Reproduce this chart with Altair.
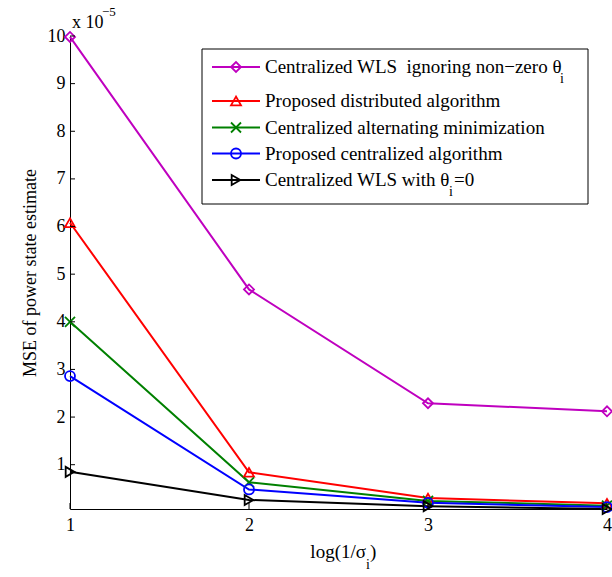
import altair as alt
import pandas as pd

# ---------------- data (values in units of 1e-5) ----------------
x_values = [1, 2, 3, 4]
series_keys = ["wls_ignore", "distributed", "alt_min", "centralized", "wls_zero"]
wls_ignore = [9.98, 4.68, 2.29, 2.12]
distributed = [6.08, 0.84, 0.30, 0.19]
alt_min = [4.00, 0.63, 0.24, 0.14]
centralized = [2.86, 0.48, 0.20, 0.11]
wls_zero = [0.85, 0.26, 0.13, 0.07]
series_values = [wls_ignore, distributed, alt_min, centralized, wls_zero]

legend_labels = [
    "Centralized WLS\u00a0 ignoring non\u2212zero \u03b8",
    "Proposed distributed algorithm",
    "Centralized alternating minimization",
    "Proposed centralized algorithm",
    "Centralized WLS with \u03b8",
]
y_ticks = [1, 2, 3, 4, 5, 6, 7, 8, 9, 10]
x_ticks = [1, 2, 3, 4]
y_title = "MSE of power state estimate"

# ---------------- styles ----------------
colors = ["#BF00BF", "#FF0000", "#008000", "#0000FF", "#000000"]
shapes = ["diamond", "triangle-up", "M-1,-1L1,1M-1,1L1,-1", "circle", "triangle-right"]
FONT = "Liberation Serif"
W, H = 537, 473

rows = []
for key, vals in zip(series_keys, series_values):
    for xv, v in zip(x_values, vals):
        rows.append({"series": key, "x": xv, "y": v})
df = pd.DataFrame(rows)

x_scale = alt.Scale(domain=[1, 4], nice=False, zero=False)
y_scale = alt.Scale(domain=[0.07, 10], nice=False, zero=False)
color_scale = alt.Scale(domain=series_keys, range=colors)
shape_scale = alt.Scale(domain=series_keys, range=shapes)

axis_style = dict(labelFont=FONT, labelFontSize=18, labelColor="black",
                  titleFont=FONT, titleFontSize=18, titleFontWeight="normal", titleColor="black",
                  domainColor="black", domainWidth=1, tickSize=0, grid=False, format="d")
x_axis = alt.Axis(values=x_ticks, title=None, labelPadding=7, labelFlush=False, **axis_style)
y_axis = alt.Axis(values=y_ticks, title=y_title, labelPadding=5, titlePadding=8, **axis_style)

base = alt.Chart(df)
lines = base.mark_line(strokeWidth=2).encode(
    x=alt.X("x:Q", scale=x_scale, axis=x_axis),
    y=alt.Y("y:Q", scale=y_scale, axis=y_axis),
    color=alt.Color("series:N", scale=color_scale, legend=None),
)
points = base.mark_point(filled=False, strokeWidth=1.8, size=100, opacity=1).encode(
    x=alt.X("x:Q", scale=x_scale, axis=x_axis),
    y=alt.Y("y:Q", scale=y_scale, axis=y_axis),
    color=alt.Color("series:N", scale=color_scale, legend=None),
    shape=alt.Shape("series:N", scale=shape_scale, legend=None),
)

# inward ticks (MATLAB style)
yt = alt.Chart(pd.DataFrame({"y": y_ticks})).mark_rule(color="black", strokeWidth=1).encode(
    y=alt.Y("y:Q", scale=y_scale, axis=y_axis), x=alt.value(0), x2=alt.value(5))
xt = alt.Chart(pd.DataFrame({"x": x_ticks})).mark_rule(color="black", strokeWidth=1).encode(
    x=alt.X("x:Q", scale=x_scale, axis=x_axis), y=alt.value(H), y2=alt.value(H - 6))

# ---------------- manual legend ----------------
row_centers = [31, 65, 91.5, 117.5, 144]
leg = pd.DataFrame({"series": series_keys, "label": legend_labels, "cy": row_centers})
leg["ty"] = leg["cy"] + 6

box = alt.Chart(pd.DataFrame({"a": [0]})).mark_rect(fill="white", stroke="black", strokeWidth=1).encode(
    x=alt.value(132), x2=alt.value(518), y=alt.value(13), y2=alt.value(168))
leg_base = alt.Chart(leg)
leg_lines = leg_base.mark_rule(strokeWidth=2).encode(
    x=alt.value(142), x2=alt.value(190),
    y=alt.Y("cy:Q", scale=None),
    color=alt.Color("series:N", scale=color_scale, legend=None))
leg_pts = leg_base.mark_point(filled=False, strokeWidth=1.8, size=100, opacity=1).encode(
    x=alt.value(166),
    y=alt.Y("cy:Q", scale=None),
    color=alt.Color("series:N", scale=color_scale, legend=None),
    shape=alt.Shape("series:N", scale=shape_scale, legend=None))
leg_text = leg_base.mark_text(align="left", baseline="alphabetic", font=FONT, fontSize=19,
                              color="black").encode(
    x=alt.value(195), y=alt.Y("ty:Q", scale=None), text="label:N")

ann = pd.DataFrame({
    "txt": ["i", "i", "=0", "x 10", "\u22125", "log(1/\u03c3", "i", ")"],
    "px": [490, 379, 384, 2, 32, 296, 296, 300],
    "py": [47, 160, 150, -8, -20, 522, 533, 522],
    "fs": [14, 14, 19, 18, 13, 19, 14, 19],
    "al": ["left", "left", "left", "left", "left", "right", "left", "left"],
})
ann_l = alt.Chart(ann).transform_filter("datum.al == 'left'").mark_text(
    align="left", baseline="alphabetic", font=FONT, color="black").encode(
    x=alt.X("px:Q", scale=None), y=alt.Y("py:Q", scale=None),
    text="txt:N", size=alt.Size("fs:Q", scale=None, legend=None))
ann_r = alt.Chart(ann).transform_filter("datum.al == 'right'").mark_text(
    align="right", baseline="alphabetic", font=FONT, color="black").encode(
    x=alt.X("px:Q", scale=None), y=alt.Y("py:Q", scale=None),
    text="txt:N", size=alt.Size("fs:Q", scale=None, legend=None))

chart = alt.layer(lines, points, yt, xt, box, leg_lines, leg_pts, leg_text, ann_l, ann_r).properties(
    width=W, height=H,
    autosize=alt.AutoSizeParams(type="none"),
    padding={"left": 70, "top": 36, "right": 5, "bottom": 68},
    background="white",
).configure_view(stroke=None)

chart.save("out.html", embed_options={"renderer": "svg", "actions": False})
